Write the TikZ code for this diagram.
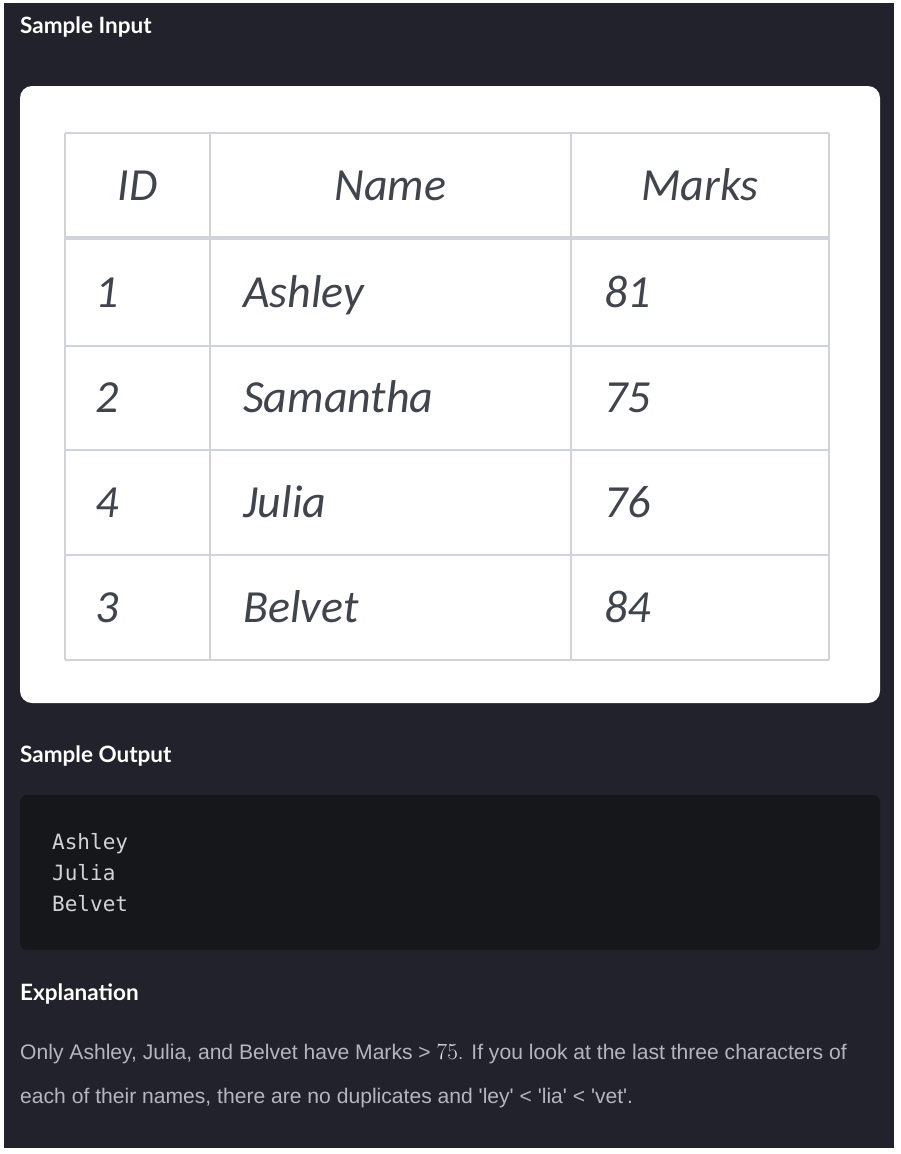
\documentclass[tikz,border=0pt]{standalone}
\usepackage[no-math]{fontspec}
\setmainfont{Liberation Sans}
\newfontfamily\headfont{Lato}
\newfontfamily\cellfont{Carlito}
\newfontfamily\codefont{DejaVu Sans Mono}
\newfontfamily\numfont{Latin Modern Roman}
\usepackage{tikz}
\usetikzlibrary{positioning}
\definecolor{panelbg}{HTML}{22222C}
\definecolor{codebg}{HTML}{16171B}
\definecolor{gridline}{HTML}{D0D3DB}
\definecolor{celltext}{HTML}{40444C}
\definecolor{codetext}{HTML}{D2D3D8}
\definecolor{bodytext}{HTML}{B4B6BE}
\definecolor{numtext}{HTML}{E2E3E8}
\newcommand*{\sq}{\textquotesingle}
\tikzstyle{heading} = [anchor=base west, inner sep=0, text=white, font=\headfont\bfseries\fontsize{22.5}{22.5}\selectfont]
\tikzstyle{cellhead} = [anchor=base, inner sep=0, text=celltext, font=\cellfont\itshape\fontsize{46}{46}\selectfont]
\tikzstyle{cell} = [anchor=base west, inner sep=0, text=celltext, font=\cellfont\itshape\fontsize{46}{46}\selectfont]
\tikzstyle{codeline} = [anchor=base west, inner sep=0, text=codetext, font=\codefont\fontsize{21}{21}\selectfont]
\tikzstyle{bodyline} = [anchor=base west, inner sep=0, text=bodytext, font=\fontsize{21.1}{21.1}\selectfont]
\tikzstyle{grid} = [draw=gridline, line width=2pt]

\begin{document}
\begin{tikzpicture}[x=1pt, y=-1pt]
	  \useasboundingbox (0,0) rectangle (900,1154);
	  \fill [white] (0,0) rectangle (900,1154);
	  \fill [panelbg] (4,3) rectangle (894,1148);
	
	  % input card and table
	  \fill [white, rounded corners=12pt] (20,86) rectangle (880,703);
	  \foreach \gx in {65,210,571,829}
	    \draw [grid] (\gx,133) -- (\gx,660);
	  \foreach \gy in {133,346,450,555,660}
	    \draw [grid] (65,\gy) -- (829,\gy);
	  \draw [grid, line width=4pt] (65,238) -- (829,238);
	
	  \node [heading] (intitle) at (20,33) {Sample Input};
	
	  \node [cellhead] (hid) at (137.5,200) {ID};
	  \node [cellhead] (hname) at (390.5,200) {Name};
	  \node [cellhead] (hmarks) at (700,200) {Marks};
	
	  \node [cell] (id1) at (95,307) {1};
	  \node [cell] (name1) at (243,307) {Ashley};
	  \node [cell] (mark1) at (604,307) {81};
	  \node [cell] (id2) at (95,412) {2};
	  \node [cell] (name2) at (243,412) {Samantha};
	  \node [cell] (mark2) at (604,412) {75};
	  \node [cell] (id3) at (95,517) {4};
	  \node [cell] (name3) at (243,517) {Julia};
	  \node [cell] (mark3) at (604,517) {76};
	  \node [cell] (id4) at (95,622) {3};
	  \node [cell] (name4) at (243,622) {Belvet};
	  \node [cell] (mark4) at (604,622) {84};
	
	  % output block
	  \node [heading] (outtitle) at (20,762) {Sample Output};
	  \fill [codebg, rounded corners=7pt] (20,795) rectangle (880,950);
	  \node [codeline] (out1) at (52,849) {Ashley};
	  \node [codeline] (out2) at (52,880) {Julia};
	  \node [codeline] (out3) at (52,911) {Belvet};
	
	  % explanation
	  \node [heading] (extitle) at (20,1000) {Explanation};
	  \node [bodyline] (line1) at (20,1059) {Only Ashley, Julia, and Belvet have Marks > {\numfont\fontsize{23}{23}\selectfont\color{numtext}75.} If you look at the last three characters of};
	  \node [bodyline] (line2) at (20,1103) {each of their names, there are no duplicates and \sq ley\sq{} < \sq lia\sq{} < \sq vet\sq.};
	\end{tikzpicture}
\end{document}
